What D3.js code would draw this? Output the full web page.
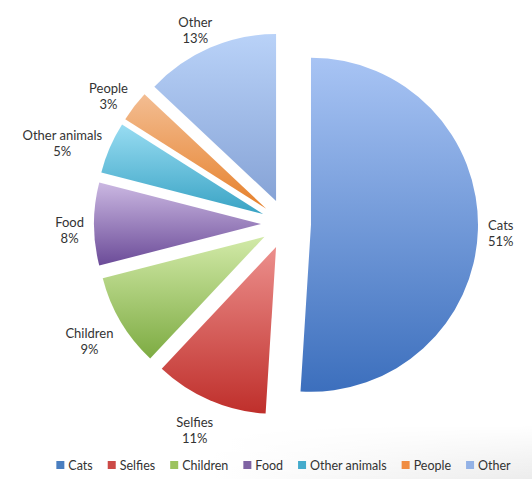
<!DOCTYPE html>
<html>
<head>
<meta charset="utf-8">
<script src="https://cdn.jsdelivr.net/npm/d3@7"></script>
<style>
  html, body { margin: 0; padding: 0; background: #fff; }
  svg { display: block; font-family: Lato, "Open Sans", sans-serif; }
</style>
</head>
<body>
<svg id="chart" width="532" height="479"></svg>
<script>
const categories = ["Cats", "Selfies", "Children", "Food", "Other animals", "People", "Other"];
const values = [51, 11, 9, 8, 5, 3, 13];
const labels = ["51%", "11%", "9%", "8%", "5%", "3%", "13%"];
const topColors = ["#a8c4f4", "#ec8f8c", "#d2eaa8", "#cbb8e2", "#98dcf2", "#f3bd92", "#b9d2f8"];
const bottomColors = ["#3c6fbd", "#bf2f2b", "#7dab42", "#6b4b98", "#39a3c4", "#e6812c", "#86a3d6"];
const legendColors = ["#4a7ec0", "#cc4a47", "#9dc35f", "#7f63a3", "#44abcc", "#f08c42", "#93b2e6"];

const svg = d3.select("#chart");
const W = 532, H = 479;
const cx = 286, cy = 224, r = 167, explode = 25;

const defs = svg.append("defs");
// subtle background shading at the bottom
const bg = defs.append("linearGradient").attr("id", "bgfade")
  .attr("x1", 0).attr("y1", 0).attr("x2", 1).attr("y2", 0);
bg.append("stop").attr("offset", "0%").attr("stop-color", "#ffffff");
bg.append("stop").attr("offset", "40%").attr("stop-color", "#ffffff");
bg.append("stop").attr("offset", "100%").attr("stop-color", "#ececec");
const bgv = defs.append("linearGradient").attr("id", "bgmask")
  .attr("x1", 0).attr("y1", 0).attr("x2", 0).attr("y2", 1);
bgv.append("stop").attr("offset", "0%").attr("stop-color", "#fff").attr("stop-opacity", 0);
bgv.append("stop").attr("offset", "100%").attr("stop-color", "#fff").attr("stop-opacity", 1);
const mask = defs.append("mask").attr("id", "bgm");
mask.append("rect").attr("x", 0).attr("y", 425).attr("width", W).attr("height", 54).attr("fill", "url(#bgmask)");
svg.append("rect").attr("x", 0).attr("y", 425).attr("width", W).attr("height", 54)
  .attr("fill", "url(#bgfade)").attr("mask", "url(#bgm)");

categories.forEach((c, i) => {
  const g = defs.append("linearGradient").attr("id", "grad" + i)
    .attr("x1", 0).attr("y1", 0).attr("x2", 0).attr("y2", 1);
  g.append("stop").attr("offset", "0%").attr("stop-color", topColors[i]);
  g.append("stop").attr("offset", "100%").attr("stop-color", bottomColors[i]);
});

const pie = d3.pie().sort(null).value(d => d);
const arcs = pie(values);
const arc = d3.arc().innerRadius(0).outerRadius(r);

const gPie = svg.append("g");
arcs.forEach((a, i) => {
  const mid = (a.startAngle + a.endAngle) / 2;
  const ux = Math.sin(mid), uy = -Math.cos(mid);
  gPie.append("path")
    .attr("d", arc(a))
    .attr("transform", `translate(${cx + ux * explode},${cy + uy * explode})`)
    .attr("fill", `url(#grad${i})`);
});

// labels
const gLab = svg.append("g").attr("font-size", 13).attr("fill", "#333");
const R = 202;
arcs.forEach((a, i) => {
  const mid = (a.startAngle + a.endAngle) / 2;
  const ux = Math.sin(mid), uy = -Math.cos(mid);
  const t = gLab.append("text").attr("text-anchor", "middle");
  t.append("tspan").attr("x", 0).attr("y", -1).text(categories[i]);
  t.append("tspan").attr("x", 0).attr("dy", 16).text(labels[i]);
  const bb = t.node().getBBox();
  const hw = bb.width / 2, hh = 16;
  let lx = cx + R * ux + hw * ux;
  let ly = cy + R * uy + hh * uy;
  if (ux < 0) { ly += 4; lx -= 4 * Math.abs(uy); }
  t.attr("transform", `translate(${lx},${ly})`);
});

// legend
const gLeg = svg.append("g").attr("font-size", 12.5).attr("fill", "#333");
let x = 0;
categories.forEach((c, i) => {
  const it = gLeg.append("g");
  it.append("rect").attr("x", 0).attr("y", -4).attr("width", 8).attr("height", 8).attr("fill", legendColors[i]);
  const tx = it.append("text").attr("x", 12).attr("y", 4.5).text(c);
  const w = 12 + tx.node().getComputedTextLength();
  it.attr("transform", `translate(${x},0)`);
  x += w + 15;
});
const total = x - 15;
gLeg.attr("transform", `translate(${(55 + 512) / 2 - total / 2},465)`);
</script>
</body>
</html>
